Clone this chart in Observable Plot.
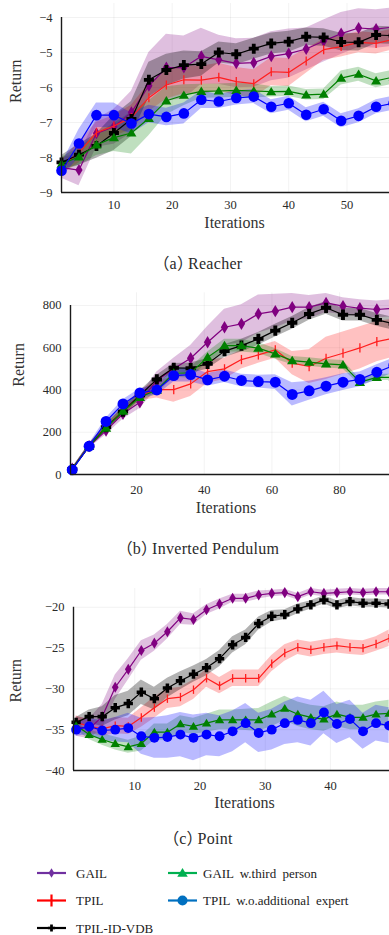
<!DOCTYPE html>
<html><head><meta charset="utf-8">
<script src="https://cdn.jsdelivr.net/npm/d3@7"></script>
<script src="https://cdn.jsdelivr.net/npm/@observablehq/plot@0.6"></script>
<style>
html,body{margin:0;padding:0;background:#fff;overflow:hidden}
#root{position:relative;width:389px;height:935px;overflow:hidden;font-family:"Liberation Serif",serif;color:#222}
.panel{position:absolute;left:0}
.cap{position:absolute;left:0;width:396px;text-align:center;font-size:16px;line-height:16px;color:#2a2a2a;letter-spacing:0.3px;white-space:nowrap}
.cap .pl{font-family:"Noto Sans CJK SC";letter-spacing:0px}
.cap .pr{font-family:"Noto Sans CJK SC";letter-spacing:-5px}
#legend{position:absolute;left:0;top:855px}
</style>
</head><body>
<div id="root">
  <div class="panel" id="pa" style="top:0px"></div>
  <div class="cap" style="top:254px"><span class="pl">（</span>a<span class="pr">）</span>Reacher</div>
  <div class="panel" id="pb" style="top:280px"></div>
  <div class="cap" style="top:539px"><span class="pl">（</span>b<span class="pr">）</span>Inverted Pendulum</div>
  <div class="panel" id="pc" style="top:580px"></div>
  <div class="cap" style="top:829px"><span class="pl">（</span>c<span class="pr">）</span>Point</div>
  <div id="legend"></div>
</div>
<script>
// ---------- series ----------
const seriesNames = ["GAIL", "TPIL", "TPIL-ID-VDB", "GAIL w.third person", "TPIL w.o.additional expert"];
const seriesColors = ["#800080", "#ff1f1f", "#000000", "#008000", "#0000ff"];
const legendColors = ["#7030a0", "#ff0000", "#000000", "#00b050", "#0070c0"];

// ---------- (a) Reacher ----------
const reacherIter = [1,4,7,10,13,16,19,22,25,28,31,34,37,40,43,46,49,52,55,58];
const reacherGAIL = [-8.29,-8.36,-7.31,-7.12,-6.71,-5.95,-5.43,-5.43,-5.11,-5.21,-5.31,-5.29,-5.11,-5.03,-4.9,-4.67,-4.46,-4.3,-4.33,-4.27];
const reacherGAILsd = [0.3,0.45,0.4,0.5,0.6,0.95,0.95,0.9,0.8,0.7,0.7,0.7,0.7,0.7,0.6,0.6,0.6,0.55,0.55,0.55];
const reacherTPIL = [-8.27,-7.86,-7.29,-7.1,-6.86,-6.29,-5.93,-5.78,-5.79,-5.71,-5.83,-5.89,-5.55,-5.57,-5.24,-4.92,-4.83,-4.71,-4.74,-4.62];
const reacherTPILsd = [0.2,0.3,0.3,0.3,0.35,0.4,0.4,0.4,0.4,0.4,0.4,0.4,0.4,0.4,0.35,0.3,0.3,0.3,0.3,0.3];
const reacherVDB = [-8.14,-7.92,-7.67,-7.3,-6.9,-5.78,-5.5,-5.36,-5.33,-5.0,-5.05,-4.89,-4.74,-4.69,-4.55,-4.57,-4.7,-4.71,-4.5,-4.52];
const reacherVDBsd = [0.2,0.3,0.35,0.5,0.5,0.5,0.45,0.4,0.35,0.3,0.3,0.3,0.3,0.3,0.25,0.25,0.25,0.25,0.25,0.25];
const reacherThird = [-8.19,-7.98,-7.64,-7.43,-7.3,-6.88,-6.38,-6.22,-6.11,-6.1,-6.08,-6.1,-6.12,-6.11,-6.21,-6.19,-5.73,-5.62,-5.81,-5.7];
const reacherThirdsd = [0.2,0.25,0.3,0.4,0.6,0.5,0.4,0.3,0.2,0.2,0.2,0.2,0.15,0.15,0.15,0.15,0.2,0.2,0.2,0.2];
const reacherWO = [-8.38,-7.6,-6.79,-6.79,-7.03,-6.76,-6.84,-6.74,-6.35,-6.4,-6.3,-6.26,-6.55,-6.45,-6.78,-6.62,-6.95,-6.81,-6.55,-6.45];
const reacherWOsd = [0.2,0.4,0.35,0.35,0.3,0.25,0.25,0.3,0.25,0.2,0.2,0.2,0.2,0.2,0.2,0.2,0.2,0.2,0.2,0.2];
const reacherXTicks = [10,20,30,40,50];
const reacherYTicks = [-9,-8,-7,-6,-5,-4];

// ---------- (b) Inverted Pendulum ----------
const pendIter = [1,6,11,16,21,26,31,36,41,46,51,56,61,66,71,76,81,86,91,96];
const pendGAIL = [27,134,208,287,342,445,500,550,626,697,713,760,773,792,792,812,797,787,781,787];
const pendGAILsd = [5,10,20,25,30,40,50,60,75,85,90,90,80,65,55,45,40,40,40,40];
const pendTPIL = [25,134,225,300,374,402,402,429,487,500,544,566,590,527,511,550,574,599,629,645];
const pendTPILsd = [5,10,15,20,25,40,60,60,55,50,45,40,40,55,80,100,100,100,95,90];
const pendVDB = [25,134,224,298,375,450,505,503,524,584,610,642,681,718,760,789,756,756,732,713];
const pendVDBsd = [5,10,15,20,20,20,20,25,25,30,30,30,30,30,30,30,30,30,30,30];
const pendThird = [25,134,220,300,366,400,480,481,555,610,610,598,571,539,532,524,519,437,460,460];
const pendThirdsd = [5,10,15,20,20,20,20,25,25,30,30,25,25,20,20,20,20,15,15,15];
const pendWO = [22,134,251,334,386,400,468,473,448,465,445,440,437,379,396,418,437,450,484,516];
const pendWOsd = [5,10,15,20,20,25,30,35,30,30,30,30,35,55,45,40,40,35,35,35];
const pendXTicks = [20,40,60,80];
const pendYTicks = [0,200,400,600,800];

// ---------- (c) Point ----------
const pointIter = [1,3,5,7,9,11,13,15,17,19,21,23,25,27,29,31,33,35,37,39,41,43,45,47,49];
const pointGAIL = [-34.6,-34.9,-33.4,-29.8,-27.6,-25.3,-24.4,-23.0,-21.3,-21.5,-20.3,-19.6,-18.9,-18.9,-18.5,-18.3,-18.2,-18.7,-18.1,-18.3,-18.2,-18.1,-18.2,-18.1,-18.1];
const pointGAILsd = [1.2,1.2,1.5,1.5,1.3,1.2,1.0,0.9,0.8,0.7,0.6,0.6,0.5,0.5,0.5,0.4,0.4,0.4,0.4,0.4,0.4,0.4,0.4,0.4,0.4];
const pointTPIL = [-34.1,-34.6,-34.9,-34.5,-34.6,-33.5,-32.3,-31.2,-31.0,-30.1,-28.7,-29.6,-28.7,-28.7,-28.7,-26.9,-25.6,-24.9,-25.2,-24.9,-24.7,-24.9,-25.0,-24.5,-23.8];
const pointTPILsd = [0.8,0.8,0.9,1.0,1.0,1.2,1.3,1.2,1.2,1.2,1.1,1.0,1.0,1.0,1.0,1.0,1.0,0.9,0.9,0.9,0.9,0.9,0.9,0.9,1.0];
const pointVDB = [-34.1,-33.4,-33.4,-32.3,-31.8,-30.4,-31.2,-29.9,-29.0,-28.2,-27.4,-26.3,-24.6,-23.7,-22.0,-21.1,-20.9,-20.2,-19.7,-19.1,-19.7,-19.3,-19.5,-19.5,-19.6];
const pointVDBsd = [0.6,0.8,1.2,1.5,1.5,1.5,1.4,1.2,1.1,1.0,1.0,1.0,1.0,0.9,0.8,0.7,0.6,0.6,0.5,0.5,0.5,0.5,0.5,0.5,0.5];
const pointThird = [-34.5,-35.6,-36.2,-36.7,-37.1,-36.7,-35.3,-35.3,-34.3,-34.6,-34.2,-33.8,-33.8,-33.8,-33.8,-33.1,-32.4,-33.1,-33.5,-33.7,-33.1,-33.5,-33.5,-33.1,-33.0];
const pointThirdsd = [0.5,0.6,0.7,0.8,0.8,0.9,1.0,1.0,1.0,1.0,1.1,1.2,1.2,1.3,1.4,1.5,1.5,1.5,1.5,1.5,1.5,1.5,1.5,1.5,1.6];
const pointWO = [-35.0,-34.6,-35.1,-35.0,-34.8,-35.8,-36.0,-35.9,-35.6,-36.0,-35.6,-35.8,-35.2,-34.2,-35.4,-35.0,-34.2,-33.8,-34.2,-32.9,-34.3,-33.7,-35.2,-34.2,-34.5];
const pointWOsd = [0.8,1.0,1.2,1.5,1.8,2.2,2.5,2.6,2.7,2.8,2.6,2.5,2.5,2.4,2.4,2.5,2.6,2.8,2.8,2.6,2.4,2.3,2.2,2.2,2.2];
const pointXTicks = [10,20,30,40];
const pointYTicks = [-40,-35,-30,-25,-20];

// ---------- marker shapes ----------
const rOf = size => Math.sqrt(size / Math.PI);
const symDiamond = {draw(c, size){const r=rOf(size), h=r*1.2, w=r*0.72; c.moveTo(0,-h); c.lineTo(w,0); c.lineTo(0,h); c.lineTo(-w,0); c.closePath();}};
const symTick = {draw(c, size){const r=rOf(size); c.moveTo(0,-r); c.lineTo(0,r);}};
const symPlus = {draw(c, size){const r=rOf(size), t=r*0.38; c.moveTo(-t,-r); c.lineTo(t,-r); c.lineTo(t,-t); c.lineTo(r,-t); c.lineTo(r,t); c.lineTo(t,t); c.lineTo(t,r); c.lineTo(-t,r); c.lineTo(-t,t); c.lineTo(-r,t); c.lineTo(-r,-t); c.lineTo(-t,-t); c.closePath();}};
const symTri = {draw(c, size){const r=rOf(size); c.moveTo(0,-r); c.lineTo(r*1.05,r*0.75); c.lineTo(-r*1.05,r*0.75); c.closePath();}};
const symCircle = {draw(c, size){const r=rOf(size); c.moveTo(r,0); c.arc(0,0,r,0,2*Math.PI);}};

const STYLES = [
  {symbol: symDiamond, r: 5,   filled: true,  band: 0.25},
  {symbol: symTick,    r: 4.5, filled: false, band: 0.28},
  {symbol: symPlus,    r: 5,   filled: true,  band: 0.3},
  {symbol: symTri,     r: 4.8, filled: true,  band: 0.25},
  {symbol: symCircle,  r: 5.3, filled: true,  band: 0.27}
];

function makePanel(cfg) {
  const tables = cfg.series.map(([mean, sd]) =>
    cfg.iter.map((x, i) => ({x, y: mean[i], lo: mean[i] - sd[i], hi: mean[i] + sd[i]})));
  const marks = [
    Plot.ruleX(cfg.xTicks, {stroke: "#000", strokeOpacity: 0.05}),
    Plot.ruleY(cfg.yTicks, {stroke: "#000", strokeOpacity: 0.05})
  ];
  tables.forEach((t, k) => marks.push(Plot.areaY(t, {x: "x", y1: "lo", y2: "hi", fill: seriesColors[k], fillOpacity: STYLES[k].band})));
  tables.forEach((t, k) => {
    const st = STYLES[k];
    marks.push(Plot.lineY(t, {x: "x", y: "y", stroke: seriesColors[k], strokeWidth: 1.2}));
    marks.push(Plot.dot(t, {x: "x", y: "y", symbol: st.symbol, r: st.r * cfg.rScale,
      fill: st.filled ? seriesColors[k] : "none", stroke: st.filled ? "none" : seriesColors[k], strokeWidth: 1.3}));
  });
  marks.push(Plot.ruleX([cfg.xDomain[0]], {y1: cfg.yTicks[0], y2: cfg.yTicks[cfg.yTicks.length - 1], stroke: "#1a1a1a", strokeWidth: 1.4}));
  marks.push(Plot.ruleY([cfg.yDomain[0]], {stroke: "#1a1a1a", strokeWidth: 1.4}));
  marks.push(Plot.text(["Iterations"], {frameAnchor: "bottom", text: d => d, dx: cfg.iterDx, dy: cfg.iterDy, fontSize: 16, lineAnchor: "middle", fill: "#333"}));
  marks.push(Plot.text(["Return"], {frameAnchor: "left", text: d => d, rotate: -90, dx: cfg.retDx, dy: cfg.retDy, fontSize: 16, fill: "#333"}));
  return Plot.plot({
    width: 389, height: cfg.height,
    marginTop: cfg.marginTop, marginBottom: cfg.marginBottom, marginLeft: cfg.marginLeft, marginRight: 0,
    x: {domain: cfg.xDomain, ticks: cfg.xTicks, tickSize: 0, tickPadding: cfg.xPad, tickFormat: d3.format("d"), label: null},
    y: {domain: cfg.yDomain, ticks: cfg.yTicks, tickSize: 0, tickPadding: 9, tickFormat: d3.format("d"), label: null},
    style: {fontFamily: "Liberation Serif", fontSize: "12.5px", color: "#2a2a2a", background: "transparent"},
    marks
  });
}

document.getElementById("pa").append(makePanel({
  iter: reacherIter,
  series: [[reacherGAIL, reacherGAILsd], [reacherTPIL, reacherTPILsd], [reacherVDB, reacherVDBsd], [reacherThird, reacherThirdsd], [reacherWO, reacherWOsd]],
  xTicks: reacherXTicks, yTicks: reacherYTicks,
  xDomain: [1, 57.3], yDomain: [-9, -3.6],
  height: 235, marginTop: 3, marginBottom: 43, marginLeft: 61, xPad: 8,
  iterDx: 9, iterDy: 30, retDx: -46, retDy: 5, rScale: 1
}));

document.getElementById("pb").append(makePanel({
  iter: pendIter,
  series: [[pendGAIL, pendGAILsd], [pendTPIL, pendTPILsd], [pendVDB, pendVDBsd], [pendThird, pendThirdsd], [pendWO, pendWOsd]],
  xTicks: pendXTicks, yTicks: pendYTicks,
  xDomain: [0.5, 94.74], yDomain: [0, 860],
  height: 240, marginTop: 12.3, marginBottom: 46, marginLeft: 70, xPad: 11,
  iterDx: -4, iterDy: 33, retDx: -52, retDy: 3, rScale: 1.03
}));

document.getElementById("pc").append(makePanel({
  iter: pointIter,
  series: [[pointGAIL, pointGAILsd], [pointTPIL, pointTPILsd], [pointVDB, pointVDBsd], [pointThird, pointThirdsd], [pointWO, pointWOsd]],
  xTicks: pointXTicks, yTicks: pointYTicks,
  xDomain: [0.6, 49.06], yDomain: [-40, -17.7],
  height: 235, marginTop: 8, marginBottom: 45, marginLeft: 73, xPad: 11,
  iterDx: 13, iterDy: 32, retDx: -58, retDy: 23, rScale: 0.93
}));

// ---------- legend ----------
const legendOrder = [0, 3, 1, 4, 2];
const legendSyms = [symDiamond, symTick, symPlus, symTri, symCircle];
const legendR = [4, 6, 3.6, 5, 5];
const svg = d3.select("#legend").append("svg").attr("width", 389).attr("height", 80)
  .style("font-family", "Liberation Serif").style("font-size", "13px");
legendOrder.forEach((k, j) => {
  const col = j % 2, row = Math.floor(j / 2);
  const x0 = col === 0 ? 37 : 168, y0 = 18 + row * 27.5;
  const g = svg.append("g").attr("transform", `translate(${x0},${y0})`);
  g.append("line").attr("x1", 0).attr("x2", 29).attr("stroke", legendColors[k]).attr("stroke-width", 2.2);
  const filled = k !== 1;
  g.append("path").attr("transform", "translate(14.5,0)")
    .attr("d", d3.symbol(legendSyms[k], Math.PI * legendR[k] * legendR[k])())
    .attr("fill", filled ? legendColors[k] : "none")
    .attr("stroke", filled ? "none" : legendColors[k]).attr("stroke-width", 2.2);
  g.append("text").attr("x", col === 0 ? 39 : 35).attr("dy", "0.35em").attr("fill", "#222")
    .style("word-spacing", "3px").text(seriesNames[k]);
});
</script>
</body></html>
